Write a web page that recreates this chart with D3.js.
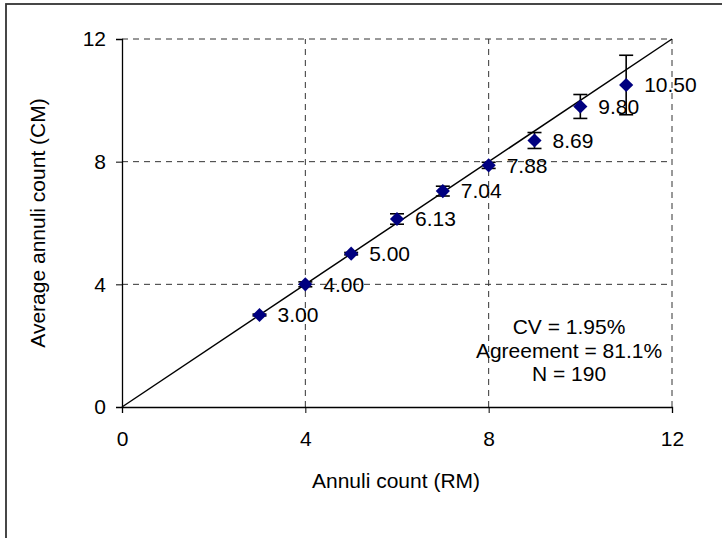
<!DOCTYPE html>
<html><head><meta charset="utf-8">
<script src="https://cdn.jsdelivr.net/npm/d3@7"></script>
<style>body{margin:0;background:#fff}svg{display:block}</style>
</head><body>
<svg id="c" width="722" height="538"></svg>
<script>
const xValues = [3, 4, 5, 6, 7, 8, 9, 10, 11];
const yValues = [3.00, 4.00, 5.00, 6.13, 7.04, 7.88, 8.69, 9.80, 10.50];
const errValues = [0.03, 0.08, 0.04, 0.17, 0.16, 0.1, 0.26, 0.39, 0.97];
const labels = ["3.00","4.00","5.00","6.13","7.04","7.88","8.69","9.80","10.50"];
const ticks = [0, 4, 8, 12];
const statsText = ["CV = 1.95%", "Agreement = 81.1%", "N = 190"];
const xTitle = "Annuli count (RM)";
const yTitle = "Average annuli count (CM)";

const svg = d3.select("#c");
const font = "'Liberation Sans', Arial, sans-serif";
const FS = 21;
const L = 122, R = 672, T = 39, B = 407;
const x = d3.scaleLinear().domain([0, 12]).range([L, R]);
const y = d3.scaleLinear().domain([0, 12]).range([B, T]);

svg.append("rect").attr("x", 6).attr("y", 4).attr("width", 730).attr("height", 540)
  .attr("fill", "none").attr("stroke", "#333").attr("stroke-width", 1.8);

// grid
const g = svg.append("g");
ticks.filter(t => t > 0).forEach(t => {
  g.append("line").attr("x1", x(t)).attr("x2", x(t)).attr("y1", B).attr("y2", T)
    .attr("stroke", "#333").attr("stroke-dasharray", "6,5").attr("stroke-width", 1);
  g.append("line").attr("x1", L).attr("x2", R).attr("y1", y(t)).attr("y2", y(t))
    .attr("stroke", "#333").attr("stroke-dasharray", "6,5").attr("stroke-width", 1);
});

// axes
const xAxis = svg.append("g").attr("transform", `translate(0,${B})`)
  .call(d3.axisBottom(x).tickValues(ticks).tickSize(6).tickPadding(18).tickFormat(d3.format("d")));
const yAxis = svg.append("g").attr("transform", `translate(${L},0)`)
  .call(d3.axisLeft(y).tickValues(ticks).tickSize(6).tickPadding(10).tickFormat(d3.format("d")));
[xAxis, yAxis].forEach(a => {
  a.select(".domain").attr("stroke", "#000").attr("stroke-width", 1.3);
  a.selectAll(".tick line").attr("stroke", "#000");
  a.selectAll("text").attr("font-family", font).attr("font-size", FS).attr("fill", "#000");
});

// identity line
svg.append("line").attr("x1", x(0)).attr("y1", y(0)).attr("x2", x(12)).attr("y2", y(12))
  .attr("stroke", "#000").attr("stroke-width", 1.5);

const data = xValues.map((v, i) => ({x: v, y: yValues[i], e: errValues[i], l: labels[i]}));

// error bars
const eb = svg.append("g").attr("stroke", "#000").attr("stroke-width", 1.6);
data.forEach(d => {
  eb.append("line").attr("x1", x(d.x)).attr("x2", x(d.x)).attr("y1", y(d.y - d.e)).attr("y2", y(d.y + d.e));
  [d.y - d.e, d.y + d.e].forEach(v => eb.append("line")
    .attr("x1", x(d.x) - 7).attr("x2", x(d.x) + 7).attr("y1", y(v)).attr("y2", y(v)));
});

// markers
svg.append("g").selectAll("path").data(data).join("path")
  .attr("d", d3.symbol().type(d3.symbolDiamond2).size(128))
  .attr("transform", d => `translate(${x(d.x)},${y(d.y)})`)
  .attr("fill", "#000080");

// labels
svg.append("g").selectAll("text").data(data).join("text")
  .attr("x", d => x(d.x) + 18).attr("y", d => y(d.y)).attr("dy", "0.35em")
  .attr("font-family", font).attr("font-size", FS).attr("fill", "#000").text(d => d.l);

// stats
svg.append("g").selectAll("text").data(statsText).join("text")
  .attr("x", 569).attr("y", (d, i) => 327 + i * 23.5).attr("dy", "0.35em")
  .attr("text-anchor", "middle").attr("font-family", font).attr("font-size", FS).text(d => d);

svg.append("text").attr("x", (L + R) / 2 - 1).attr("y", 481).attr("dy", "0.35em")
  .attr("text-anchor", "middle").attr("font-family", font).attr("font-size", FS).text(xTitle);
svg.append("text").attr("transform", `translate(38,${(T + B) / 2}) rotate(-90)`).attr("dy", "0.35em")
  .attr("text-anchor", "middle").attr("font-family", font).attr("font-size", FS).text(yTitle);
</script>
</body></html>
